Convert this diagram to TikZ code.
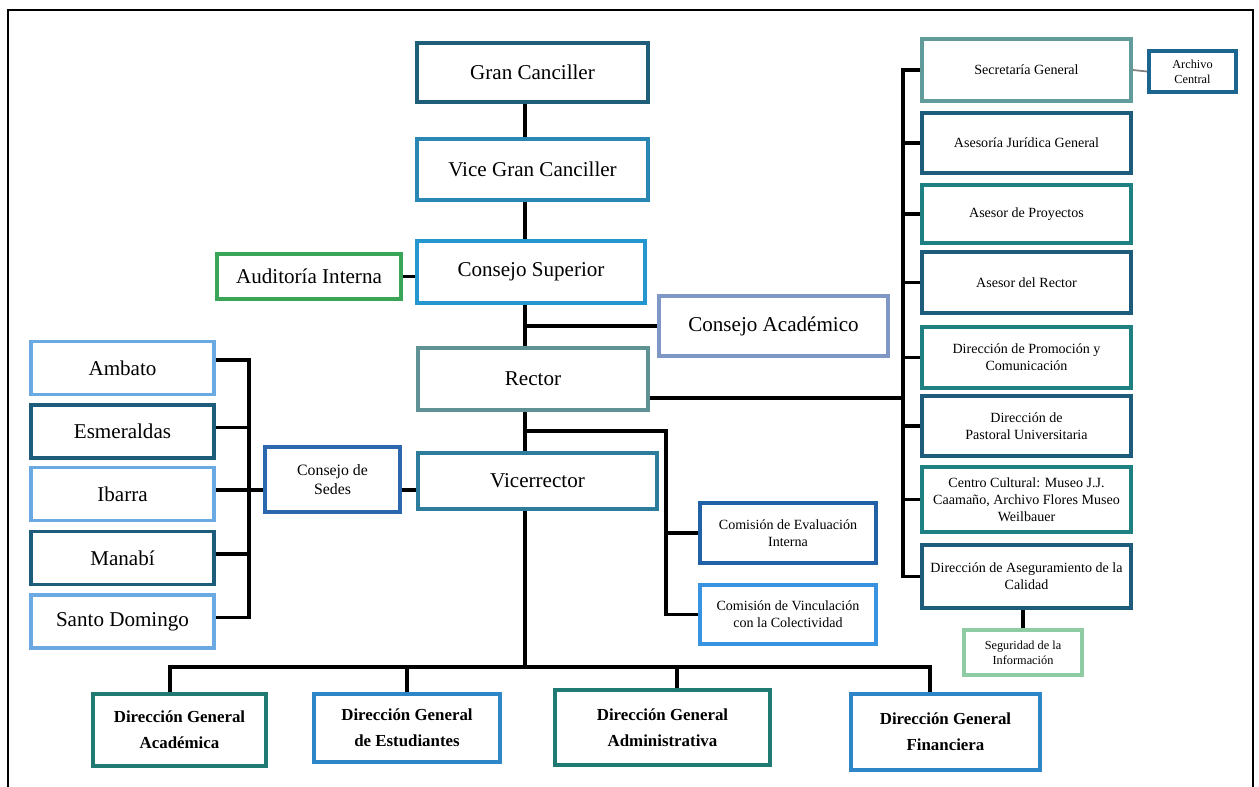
\documentclass[tikz,border=0pt]{standalone}
\usepackage{fontspec}
\setmainfont{Liberation Serif}
\usepackage{tikz}

\definecolor{cGran}{HTML}{1F5E78}
\definecolor{cVice}{HTML}{2A87B4}
\definecolor{cSup}{HTML}{2496D0}
\definecolor{cAudit}{HTML}{3AA457}
\definecolor{cAcad}{HTML}{7E97C4}
\definecolor{cRector}{HTML}{5F9393}
\definecolor{cVicer}{HTML}{2E7C9C}
\definecolor{cSedes}{HTML}{2C68AE}
\definecolor{cLight}{HTML}{6AA9E2}
\definecolor{cDark}{HTML}{1D5C7A}
\definecolor{cSec}{HTML}{629C9A}
\definecolor{cArch}{HTML}{1B6590}
\definecolor{cTeal}{HTML}{1E8080}
\definecolor{cSeg}{HTML}{8FCBA3}
\definecolor{cEval}{HTML}{2161A8}
\definecolor{cVinc}{HTML}{3A93E0}
\definecolor{cTealB}{HTML}{1F7A72}
\definecolor{cBlueB}{HTML}{2E86C6}

\tikzset{
  box/.style={draw, line width=2pt, fill=white, align=center, inner sep=1pt},
  bigbox/.style={box, font=\fontsize{12}{14}\selectfont},
  smallbox/.style={box, font=\fontsize{8}{9.8}\selectfont},
  tinybox/.style={box, font=\fontsize{7}{8.5}\selectfont},
  boldbox/.style={box, font=\fontsize{9.6}{15}\selectfont\bfseries},
  conn/.style={line width=2.2pt, line join=miter}
}

\begin{document}
\begin{tikzpicture}[x=0.02cm, y=-0.02cm]
  \useasboundingbox (0,0) rectangle (1259,787);
  \draw[line width=1pt] (8,787) -- (8,10) -- (1253,10) -- (1253,787);

  % bus lines
  \coordinate (spine) at (525,0);
  \coordinate (lbus) at (249,0);
  \coordinate (rbus) at (903,0);
  \coordinate (cbus) at (666,431);
  \coordinate (bbus) at (0,667);

  % central column
  \node[bigbox, draw=cGran, minimum width=4.62cm, minimum height=1.18cm] (gran) at (532.5,72.5) {Gran Canciller};
  \node[bigbox, draw=cVice, minimum width=4.62cm, minimum height=1.22cm] (vice) at (532.5,169.5) {Vice Gran Canciller};
  \node[bigbox, draw=cSup, minimum width=4.56cm, minimum height=1.24cm] (csup) at (531,272) {Consejo Superior};
  \node[bigbox, draw=cAudit, minimum width=3.68cm, minimum height=0.9cm] (audit) at (309,276.5) {Auditoría Interna};
  \node[bigbox, draw=cAcad, minimum width=4.58cm, minimum height=1.2cm] (cacad) at (773.5,326) {Consejo Académico};
  \node[bigbox, draw=cRector, minimum width=4.6cm, minimum height=1.24cm] (rector) at (533,379) {Rector};
  \node[bigbox, draw=cVicer, minimum width=4.78cm, minimum height=1.12cm] (vrector) at (537.5,481) {Vicerrector};
  \node[box, draw=cSedes, font=\fontsize{9}{11}\selectfont, minimum width=2.7cm, minimum height=1.3cm] (sedes) at (332.5,479.5) {Consejo de\\Sedes};

  % sedes
  \node[bigbox, draw=cLight, minimum width=3.66cm, minimum height=1.06cm] (ambato) at (122.5,368) {Ambato};
  \node[bigbox, draw=cDark, minimum width=3.66cm, minimum height=1.06cm] (esmeraldas) at (122.5,431.5) {Esmeraldas};
  \node[bigbox, draw=cLight, minimum width=3.66cm, minimum height=1.06cm] (ibarra) at (122.5,494) {Ibarra};
  \node[bigbox, draw=cDark, minimum width=3.66cm, minimum height=1.06cm] (manabi) at (122.5,558) {Manabí};
  \node[bigbox, draw=cLight, minimum width=3.66cm, minimum height=1.06cm] (santo) at (122.5,621.5) {Santo Domingo};

  % right column
  \node[smallbox, draw=cSec, minimum width=4.18cm, minimum height=1.24cm] (sec) at (1026.5,70) {Secretaría General};
  \node[tinybox, draw=cArch, minimum width=1.74cm, minimum height=0.82cm] (archivo) at (1192.5,71.5) {Archivo\\Central};
  \node[smallbox, draw=cDark, minimum width=4.18cm, minimum height=1.2cm] (jur) at (1026.5,143) {Asesoría Jurídica General};
  \node[smallbox, draw=cTeal, minimum width=4.18cm, minimum height=1.16cm] (proy) at (1026.5,214) {Asesor de Proyectos};
  \node[smallbox, draw=cDark, minimum width=4.18cm, minimum height=1.22cm] (asrec) at (1026.5,282.5) {Asesor del Rector};
  \node[smallbox, draw=cTeal, minimum width=4.18cm, minimum height=1.22cm] (prom) at (1026.5,357.5) {Dirección de Promoción y\\Comunicación};
  \node[smallbox, draw=cDark, minimum width=4.18cm, minimum height=1.2cm] (past) at (1026.5,426) {Dirección de\\Pastoral Universitaria};
  \node[smallbox, draw=cTeal, minimum width=4.18cm, minimum height=1.3cm] (centro) at (1026.5,499.5) {Centro Cultural: Museo J.J.\\Caamaño, Archivo Flores Museo\\Weilbauer};
  \node[smallbox, draw=cDark, minimum width=4.18cm, minimum height=1.26cm] (aseg) at (1026.5,576.5) {Dirección de Aseguramiento de la\\Calidad};
  \node[tinybox, draw=cSeg, minimum width=2.36cm, minimum height=0.9cm] (segur) at (1023,652.5) {Seguridad de la\\Información};

  % comisiones
  \node[smallbox, draw=cEval, minimum width=3.52cm, minimum height=1.2cm] (eval) at (788,533) {Comisión de Evaluación\\Interna};
  \node[smallbox, draw=cVinc, minimum width=3.52cm, minimum height=1.18cm] (vinc) at (788,614.5) {Comisión de Vinculación\\con la Colectividad};

  % direcciones generales
  \node[boldbox, draw=cTealB, minimum width=3.46cm, minimum height=1.44cm] (dga) at (179.5,730) {Dirección General\\Académica};
  \node[boldbox, draw=cBlueB, minimum width=3.72cm, minimum height=1.36cm] (est) at (407,728) {Dirección General\\de Estudiantes};
  \node[boldbox, draw=cTealB, minimum width=4.3cm, minimum height=1.5cm] (adm) at (662.5,727.5) {Dirección General\\Administrativa};
  \node[boldbox, draw=cBlueB, minimum width=3.78cm, minimum height=1.52cm] (fin) at (945.5,732) {Dirección General\\Financiera};

  % connectors
  \draw[conn] (gran.south -| spine) -- (vice.north -| spine);
  \draw[conn] (vice.south -| spine) -- (csup.north -| spine);
  \draw[conn] (csup.south -| spine) -- (rector.north -| spine);
  \draw[conn] (rector.south -| spine) -- (vrector.north -| spine);
  \draw[conn] (vrector.south -| spine) -- (spine |- bbus);
  \draw[conn] (audit.east) -- (audit.east -| csup.west);
  \draw[conn] (spine |- cacad.west) -- (cacad.west);

  \draw[conn] ([yshift=4.5pt]ambato.east) -| ([yshift=2.3pt]santo.east -| lbus) -- ([yshift=2.3pt]santo.east);
  \foreach \n in {esmeraldas, ibarra, manabi}
    \draw[conn] ([yshift=2.3pt]\n.east) -- ([yshift=2.3pt]\n.east -| lbus);
  \draw[conn] ([yshift=2.3pt]ibarra.east -| lbus) -- ([yshift=2.3pt]sedes.west |- ibarra.east);
  \draw[conn] ([yshift=2.3pt]sedes.east |- ibarra.east) -- ([yshift=2.3pt]vrector.west |- ibarra.east);

  \draw[conn] ([yshift=-10.8pt]rector.east) -- ([yshift=-10.8pt]rector.east -| rbus);
  \draw[conn] (sec.west) -| (aseg.west -| rbus) -- (aseg.west);
  \foreach \n in {jur, proy, asrec, prom, past, centro}
    \draw[conn] (\n.west) -- (\n.west -| rbus);
  \draw[line width=1pt, gray] (sec.east) -- (archivo.west);
  \draw[conn] (aseg.south -| segur.north) -- (segur.north);

  \draw[conn] (spine |- cbus) -| (vinc.west -| cbus) -- (vinc.west);
  \draw[conn] (eval.west -| cbus) -- (eval.west);

  \draw[conn] ([xshift=-5.4pt]dga.north) |- ([xshift=-8.8pt]fin.north |- bbus) -- ([xshift=-8.8pt]fin.north);
  \draw[conn] (est.north) -- (est.north |- bbus);
  \draw[conn] ([xshift=8.2pt]adm.north) -- ([xshift=8.2pt]adm.north |- bbus);
\end{tikzpicture}
\end{document}
